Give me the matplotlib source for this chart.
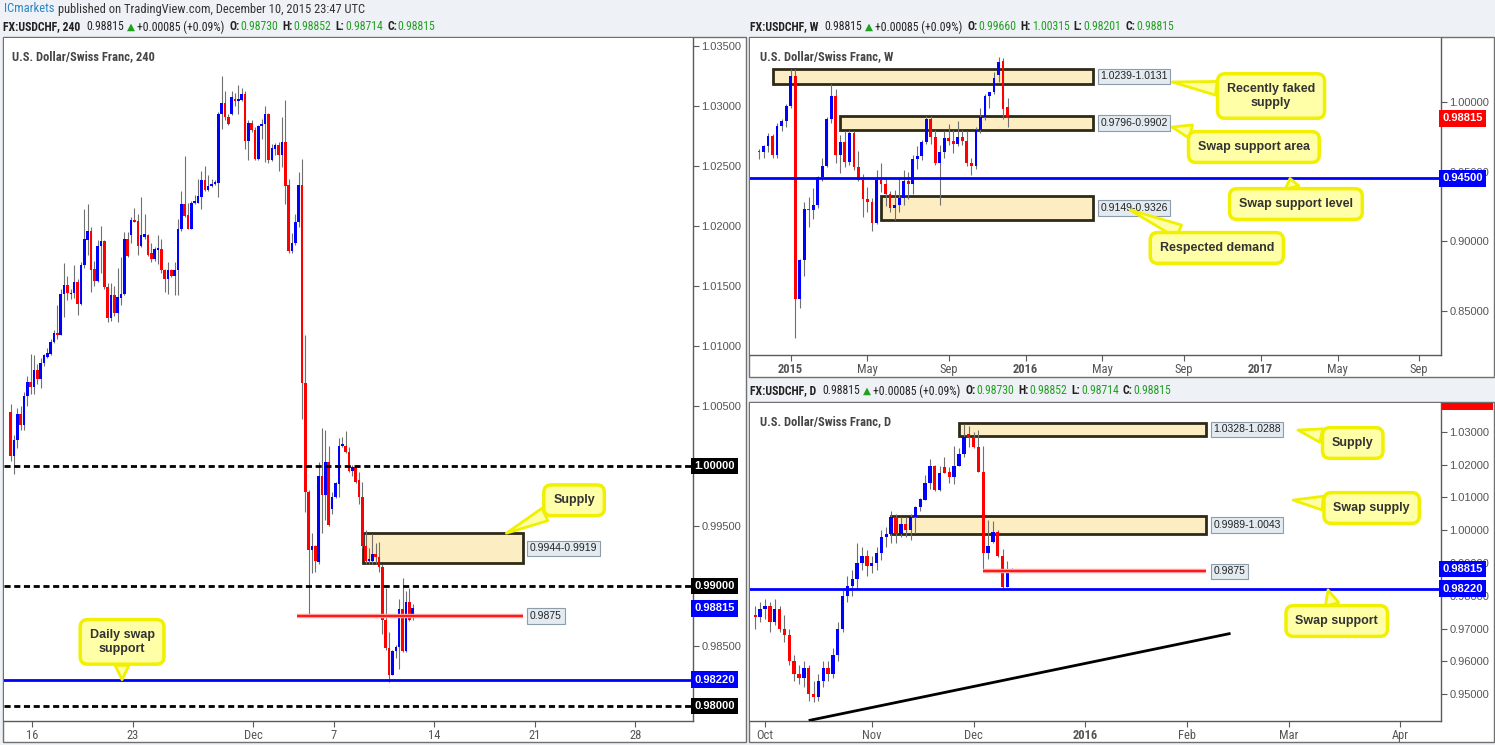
import numpy as np
import pandas as pd
import matplotlib
matplotlib.use("Agg")
import matplotlib.pyplot as plt
from matplotlib import font_manager
from matplotlib.patches import Rectangle

# ============================ DATA ============================
# ---- 4-hour USDCHF candles (first bar = Nov 13 2015 session, 6 bars per session)
h4_open = [1.0045, 1.0008, 1.0022, 1.0043, 1.0034, 1.0058, 1.0070, 1.0066, 1.0080, 1.0072,
           1.0086, 1.0091, 1.0093, 1.0103, 1.0111, 1.0109, 1.0143, 1.0151, 1.0143, 1.0144,
           1.0153, 1.0135, 1.0167, 1.0188, 1.0196, 1.0164, 1.0154, 1.0183, 1.0187, 1.0149,
           1.0123, 1.0142, 1.0127, 1.0140, 1.0143, 1.0189, 1.0192, 1.02046, 1.0204, 1.0183,
           1.0191, 1.0192, 1.0177, 1.0172, 1.0180, 1.0181, 1.0163, 1.0156, 1.0163, 1.0158,
           1.0163, 1.0197, 1.0218, 1.0209, 1.0197, 1.0219, 1.0219, 1.0224, 1.0238, 1.0230,
           1.0233, 1.0235, 1.0236, 1.0293, 1.0302, 1.0291, 1.0293, 1.0306, 1.0304, 1.0305,
           1.0310, 1.0271, 1.0286, 1.0280, 1.0256, 1.0283, 1.0285, 1.0293, 1.0255, 1.0264,
           1.0267, 1.0259, 1.0270, 1.0234, 1.0179, 1.0186, 1.0203, 1.0234, 1.0069, 0.9978,
           0.9930, 0.9933, 0.9920, 0.9992, 0.9976, 1.0003, 0.9964, 0.9974, 0.9985, 1.0017,
           1.0017, 1.0012, 0.9996, 0.9999, 0.9988, 0.9974, 0.9933, 0.9921, 0.9921, 0.9927,
           0.9924, 0.9916, 0.9872, 0.9848, 0.9826, 0.9846, 0.9849, 0.9881, 0.9846, 0.9887,
           0.9873]
h4_high = [1.0052, 1.0026, 1.0048, 1.0050, 1.0062, 1.0075, 1.0093, 1.0092, 1.0085, 1.0090,
           1.0093, 1.0098, 1.0106, 1.0113, 1.0134, 1.0147, 1.0169, 1.0158, 1.0147, 1.0167,
           1.0156, 1.0170, 1.0214, 1.0218, 1.0199, 1.0171, 1.0188, 1.0200, 1.0188, 1.0152,
           1.0152, 1.0150, 1.0165, 1.0174, 1.0195, 1.0195, 1.0207, 1.0215, 1.0210, 1.0224,
           1.0210, 1.0193, 1.0186, 1.0182, 1.0192, 1.0189, 1.0164, 1.0170, 1.0164, 1.0170,
           1.0206, 1.0229, 1.0258, 1.0219, 1.0221, 1.0226, 1.0239, 1.0246, 1.0250, 1.0242,
           1.0239, 1.0238, 1.0295, 1.0325, 1.0312, 1.0293, 1.0312, 1.0311, 1.0317, 1.0315,
           1.0312, 1.0288, 1.0288, 1.0282, 1.0284, 1.0289, 1.0300, 1.0294, 1.0268, 1.0269,
           1.0270, 1.0291, 1.0305, 1.0239, 1.0194, 1.0210, 1.0245, 1.0256, 1.0109, 0.9980,
           0.9944, 0.9934, 1.0003, 1.0032, 1.0030, 1.0017, 0.9978, 0.9987, 1.0023, 1.0024,
           1.0029, 1.0016, 1.0001, 0.9999, 0.9995, 0.9987, 0.9947, 0.9932, 0.9943, 0.9936,
           0.9937, 0.9918, 0.9898, 0.9862, 0.9847, 0.9851, 0.9889, 0.9907, 0.9896, 0.9898,
           0.98852]
h4_low = [1.0004, 0.9993, 1.0015, 1.0030, 1.0030, 1.0050, 1.0060, 1.0060, 1.0068, 1.0065,
          1.0083, 1.0090, 1.0092, 1.0102, 1.0106, 1.0109, 1.0124, 1.0138, 1.0139, 1.0140,
          1.0126, 1.0134, 1.0165, 1.0176, 1.0145, 1.0150, 1.0153, 1.0161, 1.0147, 1.0120,
          1.0121, 1.0125, 1.0120, 1.0134, 1.0142, 1.0174, 1.0186, 1.0203, 1.0176, 1.0182,
          1.0189, 1.0175, 1.0170, 1.0171, 1.0168, 1.0161, 1.0145, 1.0143, 1.0157, 1.0142,
          1.0142, 1.0196, 1.0207, 1.0197, 1.0197, 1.0218, 1.0219, 1.0214, 1.0229, 1.0229,
          1.0232, 1.0234, 1.0224, 1.0281, 1.0288, 1.0284, 1.0292, 1.0300, 1.0293, 1.0304,
          1.0264, 1.0255, 1.0278, 1.0255, 1.0255, 1.0272, 1.0253, 1.0252, 1.0254, 1.0259,
          1.0246, 1.0249, 1.0218, 1.0177, 1.0177, 1.0184, 1.0199, 1.0039, 0.9962, 0.9875,
          0.9911, 0.9912, 0.9918, 0.9944, 0.9955, 0.9950, 0.9960, 0.9973, 0.9974, 1.0016,
          1.0011, 0.9995, 0.9992, 0.9986, 0.9968, 0.9932, 0.9918, 0.9918, 0.9918, 0.9918,
          0.9912, 0.9860, 0.9847, 0.9820, 0.9826, 0.9840, 0.9831, 0.9845, 0.9845, 0.9871,
          0.98714]
h4_close = [1.0008, 1.0022, 1.0043, 1.0034, 1.0058, 1.0070, 1.0066, 1.0080, 1.0072, 1.0086,
            1.0092, 1.0094, 1.0103, 1.0111, 1.0109, 1.0143, 1.0151, 1.0144, 1.0144, 1.0153,
            1.0135, 1.0167, 1.0189, 1.0196, 1.0163, 1.0154, 1.0183, 1.0187, 1.0149, 1.0123,
            1.0142, 1.0127, 1.0141, 1.0143, 1.0189, 1.0175, 1.0205, 1.02032, 1.0183, 1.0192,
            1.0193, 1.0176, 1.0172, 1.0181, 1.01814, 1.0163, 1.0156, 1.0163, 1.0158, 1.0163,
            1.0197, 1.0218, 1.0208, 1.0197, 1.0219, 1.0220, 1.0225, 1.0238, 1.0230, 1.0233,
            1.0235, 1.0236, 1.0293, 1.0302, 1.0291, 1.0285, 1.0307, 1.0304, 1.0305, 1.0310,
            1.0271, 1.0286, 1.0280, 1.0256, 1.0283, 1.0285, 1.0293, 1.0255, 1.0265, 1.0267,
            1.0259, 1.0270, 1.0233, 1.0179, 1.0186, 1.0203, 1.0234, 1.0069, 0.9978, 0.9930,
            0.9933, 0.9921, 0.9992, 0.9976, 1.0003, 0.9951, 0.9974, 0.9986, 1.0017, 1.0018,
            1.0012, 0.9996, 0.9999, 0.9987, 0.9974, 0.9933, 0.9921, 0.9922, 0.9927, 0.9924,
            0.9916, 0.9872, 0.9848, 0.9826, 0.9846, 0.9849, 0.9881, 0.9846, 0.9887, 0.9872,
            0.98815]
h4_first_session = "2015-11-13"
h4_tick_dates = ["2015-11-16", "2015-11-23", "2015-12-01", "2015-12-07",
                 "2015-12-14", "2015-12-21", "2015-12-28"]
h4_tick_labels = ["16", "23", "Dec", "7", "14", "21", "28"]
h4_yticks = [0.985, 0.995, 1.005, 1.010, 1.015, 1.020, 1.025, 1.030, 1.035]
h4_round_levels = [1.0, 0.99, 0.98]
h4_supply = (0.9919, 0.9944)
swap_support = 0.9822
level_9875 = 0.9875

# ---- Weekly candles (first bar = week of 2014-11-17)
w_open = [0.9650, 0.9640, 0.9680, 0.9755, 0.9620, 0.9830, 0.9860, 0.9970, 1.0190, 0.8580,
          0.8860, 0.9230, 0.9220, 0.9260, 0.9460, 0.9540, 0.9880, 1.0040, 0.9620, 0.9710,
          0.9570, 0.9780, 0.9530, 0.9440, 0.9300, 0.9280, 0.9130, 0.9440, 0.9410, 0.9340,
          0.9240, 0.9260, 0.9310, 0.9430, 0.9410, 0.9590, 0.9610, 0.9710, 0.9880, 0.9750,
          0.9560, 0.9640, 0.9740, 0.9720, 0.9700, 0.9750, 0.9720, 0.9560, 0.9540, 0.9800,
          0.9890, 1.0040, 1.0070, 1.0192, 1.0293, 0.9966]
w_high = [0.9665, 0.9690, 0.9780, 0.9770, 0.9850, 0.9880, 0.9985, 1.0240, 1.0240, 0.8870,
          0.9280, 0.9320, 0.9380, 0.9470, 0.9600, 0.9890, 1.0130, 1.0090, 0.9760, 0.9790,
          0.9800, 0.9790, 0.9650, 0.9480, 0.9390, 0.9310, 0.9510, 0.9560, 0.9450, 0.9360,
          0.9370, 0.9450, 0.9510, 0.9500, 0.9620, 0.9680, 0.9730, 0.9900, 0.9900, 0.9800,
          0.9690, 0.9790, 0.9840, 0.9800, 0.9860, 0.9800, 0.9790, 0.9600, 0.9820, 0.9960,
          1.0060, 1.0075, 1.0218, 1.0325, 1.0317, 1.00315]
w_low = [0.9590, 0.9600, 0.9640, 0.9600, 0.9600, 0.9790, 0.9820, 0.9960, 0.8300, 0.8520,
         0.8750, 0.9100, 0.9160, 0.9240, 0.9430, 0.9530, 0.9850, 0.9560, 0.9490, 0.9530,
         0.9550, 0.9510, 0.9430, 0.9170, 0.9210, 0.9070, 0.9120, 0.9350, 0.9250, 0.9210,
         0.9150, 0.9210, 0.9260, 0.9300, 0.9340, 0.9520, 0.9580, 0.9700, 0.9700, 0.9550,
         0.9260, 0.9600, 0.9690, 0.9630, 0.9680, 0.9690, 0.9540, 0.9476, 0.9520, 0.9780,
         0.9870, 0.9960, 1.0060, 1.0142, 0.9875, 0.98201]
w_close = [0.9640, 0.9680, 0.9755, 0.9620, 0.9830, 0.9860, 0.9970, 1.0190, 0.8580, 0.8860,
           0.9230, 0.9220, 0.9260, 0.9460, 0.9540, 0.9880, 1.0040, 0.9620, 0.9710, 0.9570,
           0.9780, 0.9530, 0.9440, 0.9300, 0.9280, 0.9130, 0.9440, 0.9410, 0.9340, 0.9240,
           0.9260, 0.9310, 0.9430, 0.9410, 0.9590, 0.9610, 0.9710, 0.9880, 0.9750, 0.9560,
           0.9640, 0.9740, 0.9720, 0.9700, 0.9750, 0.9720, 0.9560, 0.9540, 0.9800, 0.9890,
           1.0040, 1.0070, 1.0175, 1.0285, 0.9951, 0.98815]
w_first_week = "2014-11-17"
w_tick_dates = ["2015-01-05", "2015-05-04", "2015-09-07", "2016-01-04", "2016-05-02",
                "2016-09-05", "2017-01-02", "2017-05-01", "2017-09-04"]
w_tick_labels = ["2015", "May", "Sep", "2016", "May", "Sep", "2017", "May", "Sep"]
w_yticks = [0.85, 0.90, 0.95, 1.00]
w_zones = [(1.0131, 1.0239, "2014-12-08", "1.0239-1.0131"),
           (0.9796, 0.9902, "2015-03-23", "0.9796-0.9902"),
           (0.9149, 0.9326, "2015-05-25", "0.9149-0.9326")]
w_zone_end = "2016-04-18"
w_swap_level = 0.9450

# ---- Daily candles (2015-09-29 .. 2015-12-11 sessions)
d_open = [0.9740, 0.9735, 0.9760, 0.9770, 0.9720, 0.9760, 0.9700, 0.9680, 0.9600, 0.9560,
          0.9550, 0.9580, 0.9500, 0.9490, 0.9540, 0.9580, 0.9560, 0.9620, 0.9700, 0.9800,
          0.9830, 0.9850, 0.9900, 0.9920, 0.9890, 0.9900, 0.9930, 0.9980, 0.9990, 1.0040,
          0.9990, 1.0020, 1.0000, 1.0040, 1.0070, 1.0093, 1.0143, 1.0196, 1.0123, 1.0192,
          1.0177, 1.0163, 1.0197, 1.0233, 1.0293, 1.0286, 1.0255, 1.0179, 0.9930, 0.9964,
          0.9996, 0.9921, 0.9826, 0.9873]
d_high = [0.9770, 0.9780, 0.9790, 0.9780, 0.9790, 0.9770, 0.9740, 0.9700, 0.9620, 0.9590,
          0.9600, 0.9590, 0.9540, 0.9560, 0.9600, 0.9600, 0.9640, 0.9720, 0.9820, 0.9860,
          0.9880, 0.9960, 0.9950, 0.9940, 0.9920, 0.9950, 1.0000, 1.0010, 1.0060, 1.0050,
          1.0040, 1.0040, 1.0050, 1.0075, 1.0098, 1.0169, 1.0218, 1.0200, 1.0195, 1.0224,
          1.0192, 1.0258, 1.0250, 1.0325, 1.0317, 1.0300, 1.0305, 1.0256, 1.0032, 1.0029,
          1.0001, 0.9943, 0.9907, 0.98852]
d_low = [0.9700, 0.9720, 0.9730, 0.9690, 0.9710, 0.9690, 0.9660, 0.9590, 0.9540, 0.9530,
         0.9520, 0.9480, 0.9476, 0.9480, 0.9520, 0.9540, 0.9550, 0.9600, 0.9690, 0.9780,
         0.9800, 0.9820, 0.9880, 0.9860, 0.9870, 0.9880, 0.9910, 0.9950, 0.9960, 0.9960,
         0.9980, 0.9980, 0.9970, 0.9992, 1.0060, 1.0092, 1.0126, 1.0120, 1.0120, 1.0175,
         1.0143, 1.0142, 1.0197, 1.0224, 1.0255, 1.0252, 1.0177, 0.9875, 0.9911, 0.9960,
         0.9918, 0.9820, 0.9826, 0.98714]
d_close = [0.9735, 0.9760, 0.9770, 0.9720, 0.9760, 0.9700, 0.9680, 0.9600, 0.9560, 0.9550,
           0.9580, 0.9500, 0.9490, 0.9540, 0.9580, 0.9560, 0.9620, 0.9700, 0.9800, 0.9830,
           0.9850, 0.9900, 0.9920, 0.9890, 0.9900, 0.9930, 0.9980, 0.9990, 1.0040, 0.9990,
           1.0020, 1.0000, 1.0040, 1.0070, 1.0094, 1.0144, 1.0196, 1.0123, 1.0175, 1.0176,
           1.0163, 1.0197, 1.0233, 1.0285, 1.0286, 1.0255, 1.0179, 0.9930, 0.9951, 0.9996,
           0.9922, 0.9826, 0.9872, 0.98815]
d_first_day = "2015-09-29"
d_origin = "2015-09-28"
d_tick_dates = ["2015-10-01", "2015-11-02", "2015-12-01", "2016-01-01", "2016-02-01",
                "2016-03-01", "2016-04-01"]
d_tick_labels = ["Oct", "Nov", "Dec", "2016", "Feb", "Mar", "Apr"]
d_yticks = [0.95, 0.96, 0.97, 0.98, 0.99, 1.00, 1.01, 1.02, 1.03]
d_zones = [(1.0288, 1.0328, "2015-11-26", "1.0328-1.0288"),
           (0.9989, 1.0043, "2015-11-06", "0.9989-1.0043")]
d_zone_end = "2016-02-05"
d_trend = [("2015-10-14", 0.9419), ("2016-02-12", 0.9685)]

# ============================ STYLE / LAYOUT ============================
W, H, DPI = 1495, 745, 100
_entries = font_manager.fontManager.ttflist
_names = {f.name for f in _entries}
REG = "Liberation Sans" if "Liberation Sans" in _names else "DejaVu Sans"
NARROW, NSTRETCH = REG, "normal"
for cand in ("Liberation Sans Narrow", "Roboto Condensed", "Open Sans Condensed", "Ubuntu Condensed"):
    if cand in _names:
        NARROW = cand
        break
else:
    if any(f.name == "DejaVu Sans" and str(f.stretch) in ("condensed", "semi-condensed", "75", "87.5")
           for f in _entries):
        NARROW, NSTRETCH = "DejaVu Sans", "condensed"
NFAM = [NARROW, "DejaVu Sans"]
plt.rcParams["font.family"] = [REG, "DejaVu Sans"]
HDR_FS = 8.5 if NARROW != REG else 8.0

BLUE, RED, BLACK = "#0000FF", "#FF0000", "#000000"
GRAY = "#555555"
ZONE_FC, ZONE_EC = "#FDEDC3", "#2E2A18"
CALL_FC, CALL_EC = "#FFFFA8", "#F0F000"

fig = plt.figure(figsize=(W / DPI, H / DPI), dpi=DPI)
fig.patch.set_facecolor("#EEF1F5")
renderer = fig.canvas.get_renderer()


def frac(x0, y0, x1, y1):
    return [x0 / W, 1 - y1 / H, (x1 - x0) / W, (y1 - y0) / H]


def panel(x0, y0, x1, y1):
    r = Rectangle((x0 / W, 1 - y1 / H), (x1 - x0) / W, (y1 - y0) / H, transform=fig.transFigure,
                  fc="white", ec="#707070", lw=1.0, zorder=-5)
    fig.add_artist(r)


def ftext(x, y, s, **kw):
    kw.setdefault("va", "center")
    kw.setdefault("ha", "left")
    return fig.text(x / W, 1 - y / H, s, **kw)


def make_axes(rect_px, xlim, ylim, yticks):
    ax = fig.add_axes(frac(*rect_px))
    ax.set_facecolor("white")
    ax.set_xlim(*xlim)
    ax.set_ylim(*ylim)
    for side in ("top", "left"):
        ax.spines[side].set_visible(False)
    for side in ("right", "bottom"):
        ax.spines[side].set_color("#5A5A5A")
        ax.spines[side].set_linewidth(1.0)
    ax.yaxis.tick_right()
    ax.set_yticks(yticks)
    ax.set_yticklabels([f"{t:.5f}" for t in yticks])
    ax.tick_params(axis="y", direction="out", length=4, width=0.8, color="#5A5A5A",
                   labelcolor=GRAY, labelsize=8, pad=2)
    ax.tick_params(axis="x", direction="out", length=4, width=0.8, color="#5A5A5A",
                   labelcolor=GRAY, labelsize=9, pad=2)
    return ax


def style_xlabels(ax, labels):
    for lab, txt in zip(ax.get_xticklabels(), labels):
        lab.set_family(NFAM)
        lab.set_stretch(NSTRETCH)
        if txt.isdigit() and len(txt) == 4:
            lab.set_fontweight("bold")


def candles(ax, x, o, h, l, c, width):
    o, h, l, c = map(np.asarray, (o, h, l, c))
    up = c >= o
    col = np.where(up, BLUE, RED)
    ax.vlines(x, l, h, colors="#707070", lw=0.8, zorder=3)
    lo = np.minimum(o, c)
    span = ax.get_ylim()[1] - ax.get_ylim()[0]
    hgt = np.maximum(np.abs(c - o), span * 0.0025)
    ax.bar(x, hgt, width=width, bottom=lo, color=col, lw=0, zorder=4)


def tag(ax, y, txt, fc, axw):
    ax.text(1 + 1.5 / axw, y, txt, transform=ax.get_yaxis_transform(), ha="left", va="center",
            fontsize=8, fontweight="bold", color="white", clip_on=False, zorder=20,
            bbox=dict(boxstyle="square,pad=0.3", fc=fc, ec="none"))


def zone_label(ax, x, y, txt):
    ax.annotate(txt, xy=(x, y), xytext=(5, 0), textcoords="offset points", ha="left", va="center",
                fontsize=7.5, color="#222222", zorder=8,
                bbox=dict(boxstyle="square,pad=0.25", fc="#E3EBF1", ec="#8D9CAA", lw=0.8))


def callout(ax, txt, tip, box, fs=9):
    ax.annotate(txt, xy=tip, xytext=box, ha="center", va="center", fontsize=fs, fontweight="bold",
                color="#333333", multialignment="center", zorder=12, annotation_clip=False,
                bbox=dict(boxstyle="round,pad=0.75,rounding_size=0.6", fc=CALL_FC, ec=CALL_EC, lw=2.5),
                arrowprops=dict(arrowstyle="wedge,tail_width=1.1,shrink_factor=0.5", fc=CALL_FC,
                                ec=CALL_EC, lw=2, shrinkA=0, shrinkB=0))


SEG_STYLE = {
    "name": dict(fontweight="bold", color="#222222"),
    "plain": dict(color="#222222"),
    "key": dict(fontweight="bold", color="#222222"),
    "val": dict(color="#1FA01F"),
    "tri": dict(color="#1FA01F"),
}
SEG_GAP = {"name": 6, "plain": 3, "tri": 2, "key": 1, "val": 4}


def header(x, y, items):
    """Lay the header segments left-to-right, measuring each text."""
    for s, kind in items:
        if kind == "tri":
            t = ftext(x, y, s, fontsize=HDR_FS - 1, family=["DejaVu Sans"], **SEG_STYLE[kind])
        else:
            t = ftext(x, y, s, fontsize=HDR_FS, family=NFAM, stretch=NSTRETCH, **SEG_STYLE[kind])
        x += t.get_window_extent(renderer).width + SEG_GAP[kind]
        if kind == "plain" and s.startswith("+"):
            x += 2


def quote_items(name, o, h, l, c):
    return [(name, "name"), ("0.98815", "plain"), ("\u25B2", "tri"), ("+0.00085 (+0.09%)", "plain"),
            ("O:", "key"), (o, "val"), ("H:", "key"), (h, "val"), ("L:", "key"), (l, "val"),
            ("C:", "key"), (c, "val")]


# ---------------- top header ----------------
t0 = ftext(4, 9, "ICmarkets", fontsize=HDR_FS + 0.5, color="#2B87C6", family=NFAM, stretch=NSTRETCH)
ftext(4 + t0.get_window_extent(renderer).width + 3, 9,
      "published on TradingView.com, December 10, 2015 23:47 UTC", fontsize=HDR_FS + 0.5,
      color="#333333", family=NFAM, stretch=NSTRETCH)
header(3, 27, quote_items("FX:USDCHF, 240", "0.98730", "0.98852", "0.98714", "0.98815"))
header(750, 27, quote_items("FX:USDCHF, W", "0.99660", "1.00315", "0.98201", "0.98815"))
header(750, 391, quote_items("FX:USDCHF, D", "0.98730", "0.98852", "0.98714", "0.98815"))

panel(3, 37, 746, 742)
panel(749, 37, 1494, 377)
panel(749, 402, 1494, 742)

TITLE_KW = dict(fontsize=9, fontweight="bold", color="#454545", family=NFAM, stretch=NSTRETCH)

# ======================= 4H PANEL =======================
def h4_pos(date, bar=0.0):
    return 6 * np.busday_count(h4_first_session, date) + bar


ax1 = make_axes((4, 38, 693, 721), (-1.94, 203.7), (0.97876, 1.03564), h4_yticks)
ax1.set_xticks([h4_pos(d, 0.5) for d in h4_tick_dates])
ax1.set_xticklabels(h4_tick_labels)
style_xlabels(ax1, h4_tick_labels)
x1 = np.arange(len(h4_open))
candles(ax1, x1, h4_open, h4_high, h4_low, h4_close, 0.78)
for lv in h4_round_levels:
    ax1.axhline(lv, color=BLACK, lw=2.0, ls=(0, (2.2, 1.3)), zorder=6)
ax1.axhline(swap_support, color=BLUE, lw=2.0, zorder=6)
xs, xe = h4_pos("2015-12-03", 1.5), h4_pos("2015-12-18", 3.0)
ax1.plot([xs, xe], [level_9875] * 2, color="#FF9C9C", lw=3.2, zorder=5, solid_capstyle="butt")
ax1.plot([xs, xe], [level_9875] * 2, color=RED, lw=1.2, zorder=6, solid_capstyle="butt")
zone_label(ax1, xe, level_9875, "0.9875")
zs = h4_pos("2015-12-08", 3.2)
ax1.add_patch(Rectangle((zs, h4_supply[0]), xe - zs, h4_supply[1] - h4_supply[0],
                        fc=ZONE_FC, ec=ZONE_EC, lw=2.0, zorder=2))
zone_label(ax1, xe, sum(h4_supply) / 2, "0.9944-0.9919")
callout(ax1, "Supply", (xe - 5, h4_supply[1]), (168.2, 0.99714))
callout(ax1, "Daily swap\nsupport", (33.3, swap_support), (33.3, 0.98535))
ftext(12, 57, "U.S. Dollar/Swiss Franc, 240", **TITLE_KW)
AXW1 = 689
tag(ax1, 1.0, "1.00000", BLACK, AXW1)
tag(ax1, 0.99, "0.99000", BLACK, AXW1)
tag(ax1, 0.98815, "0.98815", BLUE, AXW1)
tag(ax1, swap_support, "0.98220", BLUE, AXW1)
tag(ax1, 0.98, "0.98000", BLACK, AXW1)

# ======================= WEEKLY PANEL =======================
def w_pos(date):
    return (pd.Timestamp(date) - pd.Timestamp(w_first_week)).days / 7.0


ax2 = make_axes((750, 38, 1441, 355), (-1.99, 150.9), (0.81799, 1.04604), w_yticks)
ax2.set_xticks([w_pos(d) for d in w_tick_dates])
ax2.set_xticklabels(w_tick_labels)
style_xlabels(ax2, w_tick_labels)
x2 = np.arange(len(w_open))
candles(ax2, x2, w_open, w_high, w_low, w_close, 0.62)
ax2.axhline(w_swap_level, color=BLUE, lw=2.0, zorder=6)
we = w_pos(w_zone_end)
for lo, hi, start, txt in w_zones:
    s = w_pos(start)
    ax2.add_patch(Rectangle((s, lo), we - s, hi - lo, fc=ZONE_FC, ec=ZONE_EC, lw=2.0, zorder=2))
    zone_label(ax2, we, (lo + hi) / 2, txt)
callout(ax2, "Recently faked\nsupply", (91.4, 1.0144), (113.3, 1.0043))
callout(ax2, "Swap support area", (91.4, 0.9820), (109.5, 0.9676))
callout(ax2, "Swap support level", (117.5, w_swap_level), (118.8, 0.9266))
callout(ax2, "Respected demand", (82.1, 0.9223), (101.3, 0.8950))
ftext(760, 57, "U.S. Dollar/Swiss Franc, W", **TITLE_KW)
AXW2 = 691
tag(ax2, 0.98815, "0.98815", RED, AXW2)
tag(ax2, w_swap_level, "0.94500", BLUE, AXW2)

# ======================= DAILY PANEL =======================
def d_pos(date):
    return float(np.busday_count(d_origin, date))


ax3 = make_axes((750, 403, 1441, 721), (-0.1, 142.4), (0.94176, 1.03885), d_yticks)
ax3.set_xticks([d_pos(d) for d in d_tick_dates])
ax3.set_xticklabels(d_tick_labels)
style_xlabels(ax3, d_tick_labels)
d_dates = pd.bdate_range(d_first_day, periods=len(d_open))
x3 = np.array([d_pos(d.strftime("%Y-%m-%d")) for d in d_dates])
candles(ax3, x3, d_open, d_high, d_low, d_close, 0.7)
ax3.axhline(swap_support, color=BLUE, lw=2.0, zorder=6)
de = d_pos(d_zone_end)
for lo, hi, start, txt in d_zones:
    s = d_pos(start)
    ax3.add_patch(Rectangle((s, lo), de - s, hi - lo, fc=ZONE_FC, ec=ZONE_EC, lw=2.0, zorder=2))
    zone_label(ax3, de, (lo + hi) / 2, txt)
rs = d_pos("2015-12-03")
ax3.plot([rs, de], [level_9875] * 2, color="#FF9C9C", lw=3.2, zorder=5, solid_capstyle="butt")
ax3.plot([rs, de], [level_9875] * 2, color=RED, lw=1.2, zorder=6, solid_capstyle="butt")
zone_label(ax3, de, level_9875, "0.9875")
ax3.plot([d_pos(d_trend[0][0]), d_pos(d_trend[1][0])], [d_trend[0][1], d_trend[1][1]],
         color=BLACK, lw=2.0, zorder=6, solid_capstyle="butt")
callout(ax3, "Supply", (112.9, 1.0306), (124.2, 1.02664))
callout(ax3, "Swap supply", (111.9, 1.0092), (128.1, 1.00679))
callout(ax3, "Swap support", (119.1, 0.9818), (120.9, 0.97229))
ftext(760, 422, "U.S. Dollar/Swiss Franc, D", **TITLE_KW)
AXW3 = 691
tag(ax3, 0.98815, "0.98815", BLUE, AXW3)
tag(ax3, swap_support, "0.98220", BLUE, AXW3)
fig.add_artist(Rectangle((1442 / W, 1 - 410 / H), 51 / W, 7 / H, transform=fig.transFigure,
                         fc=RED, ec="none", zorder=30))

fig.savefig("out.png", dpi=DPI, facecolor=fig.get_facecolor())
